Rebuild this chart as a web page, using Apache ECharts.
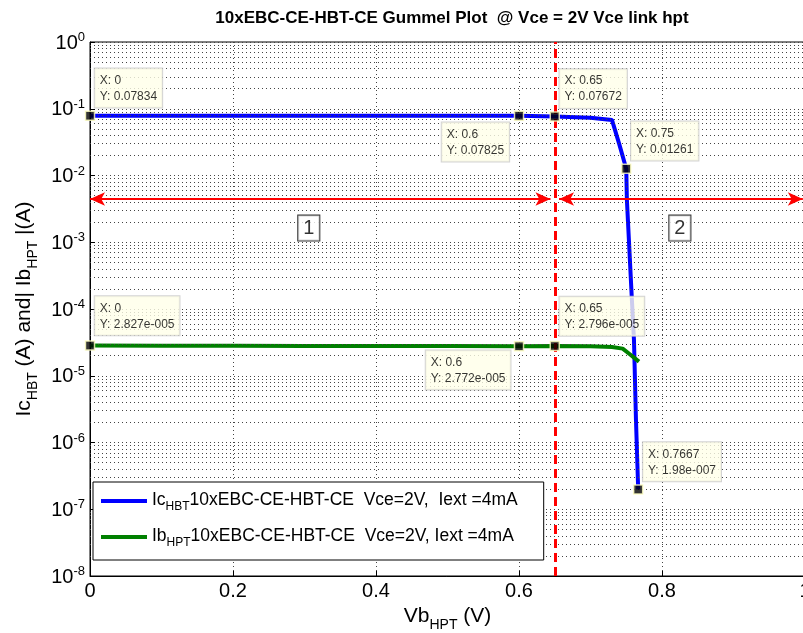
<!DOCTYPE html>
<html>
<head>
<meta charset="utf-8">
<script src="https://cdn.jsdelivr.net/npm/echarts@6/dist/echarts.min.js"></script>
<style>
html, body { margin: 0; padding: 0; background: #fff; }
#echart { width: 803px; height: 633px; }
</style>
</head>
<body>
<div id="echart"></div>
<script>
let echart = echarts.init(document.getElementById('echart'))

// Ic (HBT) curve
const vbIc = [0, 0.1, 0.2, 0.3, 0.4, 0.5, 0.6, 0.65, 0.7, 0.73, 0.74, 0.75, 0.7509, 0.7577, 0.7608, 0.7636, 0.7667]
const icHbt = [0.07834, 0.0783, 0.0783, 0.0783, 0.0783, 0.0783, 0.07825, 0.07672, 0.0735, 0.068, 0.030, 0.01261, 0.0043, 1.51e-4, 3.43e-5, 2.17e-6, 1.98e-7]

// Ib (HPT) curve
const vbIb = [0, 0.1, 0.2, 0.3, 0.4, 0.5, 0.6, 0.65, 0.7, 0.73, 0.745, 0.755, 0.7678]
const ibHpt = [2.827e-5, 2.82e-5, 2.81e-5, 2.80e-5, 2.79e-5, 2.78e-5, 2.772e-5, 2.796e-5, 2.76e-5, 2.7e-5, 2.55e-5, 2.1e-5, 1.63e-5]

// data tips
const tipX = [0, 0.6, 0.65, 0.75, 0, 0.6, 0.65, 0.7667]
const tipY = [0.07834, 0.07825, 0.07672, 0.01261, 2.827e-5, 2.772e-5, 2.796e-5, 1.98e-7]
const tipYText = ['0.07834', '0.07825', '0.07672', '0.01261', '2.827e-005', '2.772e-005', '2.796e-005', '1.98e-007']
// where each tip box sits next to its marker
const tipPos = [[10, -42], [-72, 12], [10, -42], [10, -42], [10, -44], [-88, 9.5], [10, -44], [10, -42]]

// annotations: boundary line, region arrows, region labels
const vbBoundary = 0.65
const arrowLevel = 4.45e-3
const arrowRanges = [[0, 0.644], [0.656, 0.997]]
const regionX = [0.306, 0.825]
const regionY = 1.63e-3
const regionText = ['1', '2']

const yTicks = [1e-8, 1e-7, 1e-6, 1e-5, 1e-4, 1e-3, 1e-2, 1e-1, 1]

const FONT = 'Liberation Sans'
const nameIc = 'Ic_HBT 10xEBC-CE-HBT-CE  Vce=2V,  Iext =4mA'
const nameIb = 'Ib_HPT 10xEBC-CE-HBT-CE  Vce=2V, Iext =4mA'

// minor grid lines of the log axis (2..9 in each decade)
let minorLines = []
for (let d = 0; d < yTicks.length - 1; d++) {
    for (let k = 2; k <= 9; k++) {
        minorLines.push([{coord: [0, yTicks[d] * k]}, {coord: [1, yTicks[d] * k]}])
    }
}

let subRich = {
    m: {fontSize: 21, lineHeight: 24, verticalAlign: 'top', fontFamily: FONT, color: '#000'},
    s: {fontSize: 14, lineHeight: 14, verticalAlign: 'top', padding: [12, 0, 0, 0], fontFamily: FONT, color: '#000'}
}

let option = {
    backgroundColor: '#fff',
    animation: false,
    title: {
        text: '10xEBC-CE-HBT-CE Gummel Plot  @ Vce = 2V Vce link hpt',
        left: 447,
        textAlign: 'center',
        top: 5,
        textStyle: {fontSize: 17, fontWeight: 'bold', fontFamily: FONT, color: '#000'}
    },
    grid: {
        left: 90, top: 42, width: 715, height: 534,
        outerBoundsMode: 'none',
        containLabel: false,
        show: true, borderColor: '#000', borderWidth: 1, backgroundColor: '#fff'
    },
    legend: {
        data: [nameIc, nameIb],
        orient: 'vertical',
        left: 93, top: 482,
        padding: [9, 26, 11, 8],
        itemGap: 14,
        itemWidth: 46, itemHeight: 4,
        icon: 'rect',
        backgroundColor: '#fff',
        borderColor: '#000', borderWidth: 1,
        z: 10,
        formatter: function (name) {
            if (name === nameIc) return '{m|Ic}{s|HBT}{m|10xEBC-CE-HBT-CE  Vce=2V,  Iext =4mA}'
            return '{m|Ib}{s|HPT}{m|10xEBC-CE-HBT-CE  Vce=2V, Iext =4mA}'
        },
        textStyle: {
            rich: {
                m: {fontSize: 17.5, lineHeight: 20, verticalAlign: 'top', fontFamily: FONT, color: '#000'},
                s: {fontSize: 12, lineHeight: 12, verticalAlign: 'top', padding: [10, 0, 0, 0], fontFamily: FONT, color: '#000'}
            }
        }
    },
    xAxis: {
        type: 'value',
        min: 0, max: 1, interval: 0.2,
        name: '{m|Vb}{s|HPT}{m| (V)}',
        nameLocation: 'middle',
        nameGap: 22,
        nameTextStyle: {rich: subRich},
        axisLine: {lineStyle: {color: '#000', width: 1}},
        axisTick: {inside: true, length: 5, lineStyle: {color: '#000'}},
        axisLabel: {fontSize: 20, fontFamily: FONT, color: '#000', margin: 5},
        splitLine: {show: true, lineStyle: {color: '#444', type: [1, 3], width: 1}}
    },
    yAxis: {
        type: 'log',
        logBase: 10,
        min: 1e-8, max: 1,
        name: '{m|Ic}{s|HBT}{m| (A) and| Ib}{s|HPT}{m| |(A)}',
        nameLocation: 'middle',
        nameGap: 52,
        nameTextStyle: {rich: subRich},
        axisLine: {show: true, lineStyle: {color: '#000', width: 1}},
        axisTick: {inside: true, length: 5, lineStyle: {color: '#000'}},
        axisLabel: {
            margin: 5,
            formatter: function (v) {
                return '{b|10}{e|' + Math.round(Math.log10(v)) + '}'
            },
            rich: {
                b: {fontSize: 20, lineHeight: 22, verticalAlign: 'bottom', fontFamily: FONT, color: '#000'},
                e: {fontSize: 13, lineHeight: 13, verticalAlign: 'top', padding: [0, 0, 12, 0], fontFamily: FONT, color: '#000'}
            }
        },
        splitLine: {show: true, lineStyle: {color: '#444', type: [1, 3], width: 1}}
    },
    series: [
        {
            name: 'minor',
            type: 'line',
            data: [],
            z: 1,
            silent: true,
            markLine: {
                silent: true,
                symbol: 'none',
                label: {show: false},
                lineStyle: {color: '#444', type: [1, 3], width: 1},
                data: minorLines
            }
        },
        {
            name: nameIc,
            type: 'line',
            data: vbIc.map((x, i) => [x, icHbt[i]]),
            showSymbol: false,
            color: '#0000ff',
            lineStyle: {width: 4, color: '#0000ff'},
            z: 3
        },
        {
            name: nameIb,
            type: 'line',
            data: vbIb.map((x, i) => [x, ibHpt[i]]),
            showSymbol: false,
            color: '#008000',
            lineStyle: {width: 4, color: '#008000'},
            z: 3
        },
        {
            name: 'boundary',
            type: 'line',
            data: [],
            z: 4,
            silent: true,
            markLine: {
                silent: true,
                symbol: 'none',
                label: {show: false},
                lineStyle: {color: '#ff0000', type: [9, 5], width: 3},
                data: [[{coord: [vbBoundary, 1e-8]}, {coord: [vbBoundary, 1]}]]
            }
        },
        {
            name: 'arrows',
            type: 'line',
            data: [],
            z: 4,
            silent: true,
            markLine: {
                silent: true,
                symbol: ['arrow', 'arrow'],
                symbolSize: [10, 15],
                label: {show: false},
                lineStyle: {color: '#ff0000', type: 'solid', width: 2},
                data: arrowRanges.map(r => [{coord: [r[0], arrowLevel]}, {coord: [r[1], arrowLevel]}])
            }
        },
        {
            name: 'regions',
            type: 'scatter',
            symbolSize: 1,
            itemStyle: {color: 'rgba(0,0,0,0)'},
            data: regionX.map(x => [x, regionY]),
            z: 5,
            silent: true,
            label: {
                show: true,
                position: 'inside',
                formatter: p => regionText[p.dataIndex],
                fontSize: 20,
                fontFamily: FONT,
                color: '#000',
                backgroundColor: '#fff',
                borderColor: '#000',
                borderWidth: 1,
                padding: [3, 5, 2, 5]
            }
        },
        {
            name: 'tips',
            type: 'scatter',
            symbol: 'rect',
            symbolSize: 9,
            z: 6,
            silent: true,
            itemStyle: {color: '#000', borderColor: '#ffffc0', borderWidth: 1.5},
            data: tipX.map((x, i) => ({
                value: [x, tipY[i]],
                label: {position: tipPos[i]}
            })),
            label: {
                show: true,
                align: 'left',
                verticalAlign: 'top',
                formatter: p => 'X: ' + tipX[p.dataIndex] + '\nY: ' + tipYText[p.dataIndex],
                fontSize: 12,
                lineHeight: 16,
                fontFamily: FONT,
                color: '#000',
                backgroundColor: '#ffffe8',
                borderColor: '#c8c8c8',
                borderWidth: 1,
                padding: [4, 5, 3, 5]
            }
        }
    ]
};

echart.setOption(option);
</script>
</body>
</html>
